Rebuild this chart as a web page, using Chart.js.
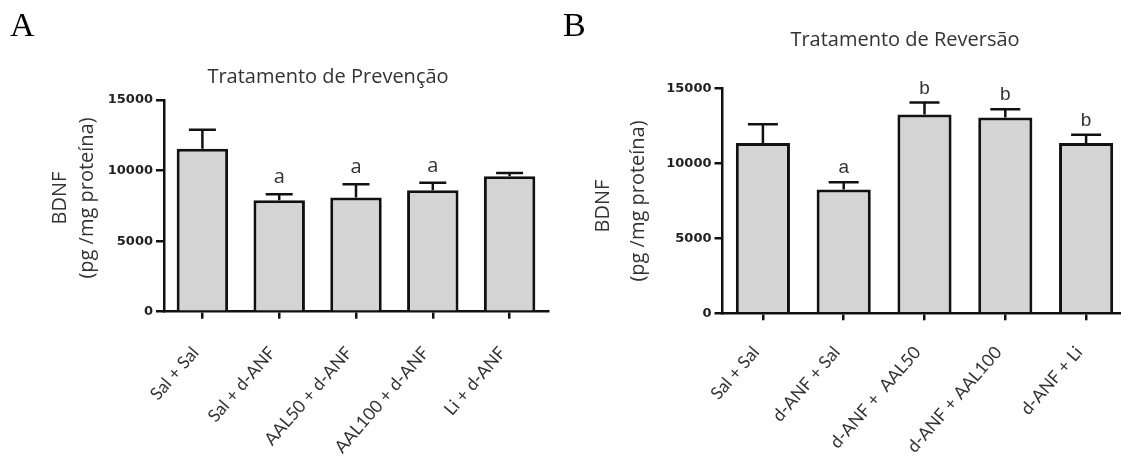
<!DOCTYPE html>
<html><head><meta charset="utf-8">
<script src="https://cdn.jsdelivr.net/npm/chart.js@4.4.0/dist/chart.umd.min.js"></script>
<style>
html,body{margin:0;padding:0;background:#fff;overflow:hidden;width:1121px;height:461px;}
#wa{position:absolute;left:0;top:0;width:560px;height:461px;}
#wb{position:absolute;left:560px;top:0;width:580px;height:461px;}
</style></head><body>
<div id="wa"><canvas id="ca" width="560" height="461"></canvas></div>
<div id="wb"><canvas id="cb" width="580" height="461"></canvas></div>
<script>
// ---- data ----
const categoriesA = ['Sal + Sal', 'Sal + d-ANF', 'AAL50 + d-ANF', 'AAL100 + d-ANF', 'Li + d-ANF'];
const meansA = [11550, 7900, 8100, 8600, 9600];
const semA = [1350, 430, 930, 530, 230];
const lettersA = ['', 'a', 'a', 'a', ''];

const categoriesB = ['Sal + Sal', 'd-ANF + Sal', 'd-ANF +  AAL50', 'd-ANF + AAL100', 'd-ANF + Li'];
const meansB = [11350, 8250, 13250, 13050, 11350];
const semB = [1250, 480, 800, 550, 550];
const lettersB = ['', 'a', 'b', 'b', 'b'];

const yMin = 0, yMax = 15000, yStep = 5000;
const titleA = 'Tratamento de Prevenção';
const titleB = 'Tratamento de Reversão';
const yLabelLines = ['BDNF', '(pg /mg proteína)'];

// ---- drawing ----
const extras = {
  id: 'extras',
  afterDatasetsDraw(chart, args, o) {
    const ctx = chart.ctx, y = chart.scales.y, meta = chart.getDatasetMeta(0);
    ctx.save();
    ctx.strokeStyle = '#111';
    ctx.lineWidth = 2.5;
    o.means.forEach((m, i) => {
      const bar = meta.data[i];
      const yb = y.getPixelForValue(m);
      const yt = y.getPixelForValue(m + o.sem[i]);
      ctx.beginPath();
      ctx.moveTo(bar.x, yb); ctx.lineTo(bar.x, yt);
      ctx.moveTo(bar.x - o.cap, yt); ctx.lineTo(bar.x + o.cap, yt);
      ctx.stroke();
      if (o.letters[i]) {
        ctx.fillStyle = '#333';
        ctx.font = o.letterFont;
        ctx.textAlign = 'center';
        ctx.textBaseline = 'alphabetic';
        ctx.fillText(o.letters[i], bar.x, yt - o.letterGap);
      }
    });
    ctx.restore();
  },
  afterDraw(chart, args, o) {
    const ctx = chart.ctx;
    ctx.save();
    ctx.fillStyle = '#000';
    ctx.font = '34px "Liberation Serif"';
    ctx.textAlign = 'left';
    ctx.textBaseline = 'alphabetic';
    ctx.fillText(o.panel, o.panelX, o.panelY);
    ctx.fillStyle = '#333';
    ctx.font = '20px "Open Sans"';
    ctx.textAlign = 'center';
    ctx.textBaseline = 'middle';
    ctx.fillText(o.title, o.titleX, o.titleY);
    yLabelLines.forEach((t, k) => {
      ctx.save();
      ctx.translate(o.ylx[k], o.yly[k]);
      ctx.rotate(-Math.PI / 2);
      ctx.fillText(t, 0, 0);
      ctx.restore();
    });
    ctx.restore();
  }
};

function makeChart(id, cats, means, sem, letters, L) {
  return new Chart(document.getElementById(id), {
    type: 'bar',
    data: {
      labels: cats,
      datasets: [{
        data: means,
        backgroundColor: '#d4d4d4',
        borderColor: '#111',
        borderWidth: 3,
        barPercentage: 0.67,
        categoryPercentage: 1
      }]
    },
    plugins: [extras],
    options: {
      responsive: false,
      animation: false,
      layout: { padding: { left: L.pl, top: L.pt, right: L.pr, bottom: 0 } },
      plugins: {
        legend: { display: false },
        tooltip: { enabled: false },
        title: { display: false },
        extras: {
          means, sem, letters,
          cap: L.cap, letterFont: L.letterFont, letterGap: L.letterGap,
          panel: L.panel, panelX: L.panelX, panelY: L.panelY,
          title: L.title, titleX: L.titleX, titleY: L.titleY,
          ylx: L.ylx, yly: L.yly
        }
      },
      scales: {
        x: {
          offset: true,
          grid: { display: true, drawOnChartArea: false, drawTicks: true, tickLength: 7, offset: false, color: '#111', lineWidth: 2.5 },
          border: { display: true, color: '#111', width: 2.5 },
          ticks: { autoSkip: false, minRotation: 49, maxRotation: 49, padding: L.xpad, labelOffset: -7, color: '#333', font: { family: 'Lato', size: 17.5 } },
          afterFit(s) { s.height = L.xh; }
        },
        y: {
          min: yMin, max: yMax,
          ticks: { stepSize: yStep, callback: v => String(v), padding: 3, color: '#222', font: { family: 'DejaVu Sans', size: 13, weight: 'bold' } },
          grid: { display: true, drawOnChartArea: false, drawTicks: true, tickLength: 8, color: '#111', lineWidth: 2.5 },
          border: { display: true, color: '#111', width: 2.5 },
          afterFit(s) { s.width = L.yw; }
        }
      }
    }
  });
}

makeChart('ca', categoriesA, meansA, semA, lettersA, {
  pl: 94, yw: 70, pt: 100, pr: 12, xh: 149.3, xpad: 24,
  cap: 13.5, letterFont: '20px "Open Sans"', letterGap: 11,
  panel: 'A', panelX: 10, panelY: 36,
  title: titleA, titleX: 328, titleY: 77,
  ylx: [60, 87.5], yly: [198, 198]
});

makeChart('cb', categoriesB, meansB, semB, lettersB, {
  pl: 92.5, yw: 70, pt: 88.3, pr: 13.5, xh: 147.7, xpad: 22,
  cap: 15, letterFont: '19px "Liberation Sans"', letterGap: 9,
  panel: 'B', panelX: 3, panelY: 36,
  title: titleB, titleX: 345, titleY: 40,
  ylx: [43, 78], yly: [206, 201]
});
</script>
</body></html>
